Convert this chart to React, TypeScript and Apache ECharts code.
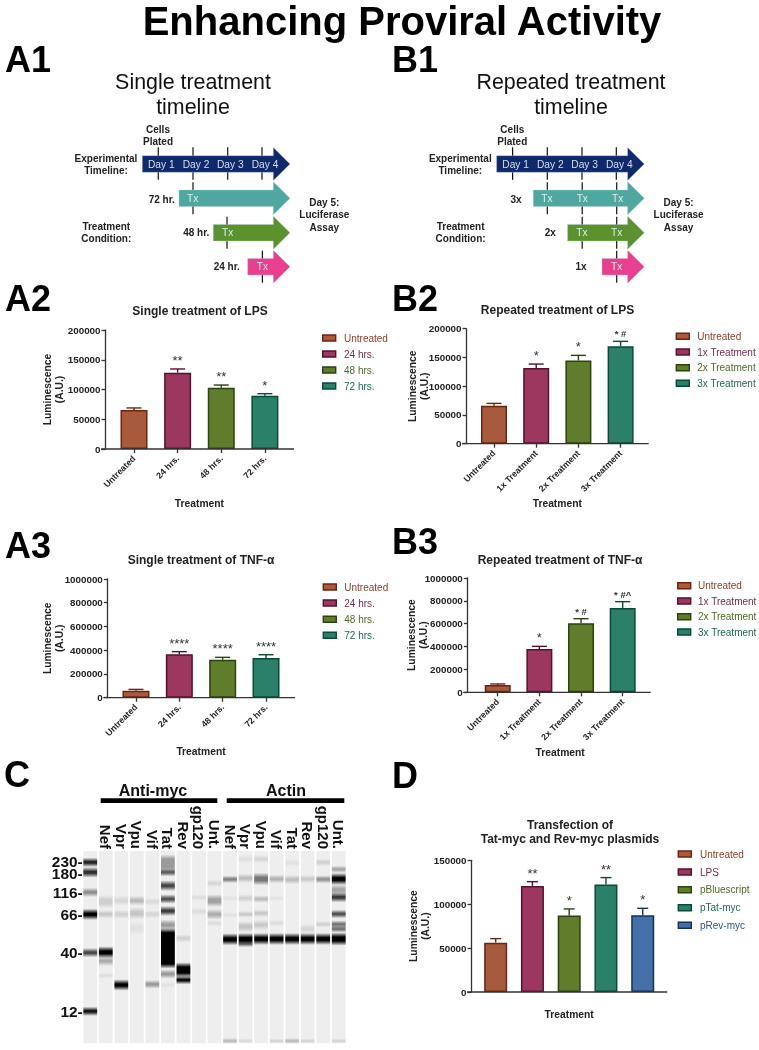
import React, { useEffect, useRef } from "react";
import * as echarts from "echarts";

const a2Labels = ["Untreated", "24 hrs.", "48 hrs.", "72 hrs."];
const a2Means = [65500, 128300, 103000, 89600];
const a2Tops = [69000, 134500, 107500, 93000];
const a2Marks = ["", "**", "**", "*"];

const b2Labels = ["Untreated", "1x Treatment", "2x Treatment", "3x Treatment"];
const b2Means = [66100, 131600, 144900, 169300];
const b2Tops = [70100, 138500, 153600, 178000];
const b2Marks = ["", "*", "*", "* #"];

const a3Labels = a2Labels;
const a3Means = [59000, 365000, 320000, 334000];
const a3Tops = [70000, 388000, 340000, 362000];
const a3Marks = ["", "****", "****", "****"];

const b3Labels = b2Labels;
const b3Means = [64000, 379000, 603500, 737000];
const b3Tops = [73000, 402000, 644000, 793000];
const b3Marks = ["", "*", "* #", "* #^"];

const dLabels = ["Untreated", "LPS", "pBluescript", "pTat-myc", "pRev-myc"];
const dMeans = [56200, 120800, 87000, 122300, 87300];
const dTops = [60800, 125700, 94600, 130300, 95300];
const dMarks = ["", "**", "*", "**", "*"];

const laneNames = ["", "Nef", "Vpr", "Vpu", "Vif", "Tat", "Rev", "gp120", "Unt.", "Nef", "Vpr", "Vpu", "Vif", "Tat", "Rev", "gp120", "Unt."];
const mwLabels: [string, number][] = [["230-", 319], ["180-", 356], ["116-", 412], ["66-", 478], ["40-", 594], ["12-", 769]];

// [gel position, band thickness, darkness] per lane, read from the blot
const markerBands = [[322, 18, .85], [352, 22, .8], [412, 18, .4], [478, 24, 1], [593, 18, .7], [769, 18, .9]];
const nefMyc = [[440, 30, .13], [478, 16, .16], [592, 26, 1], [618, 20, .28], [662, 6, .07]];
const vprMyc = [[437, 20, .1], [478, 16, .12], [690, 24, 1]];
const vpuMyc = [[437, 20, .22], [475, 26, .17], [520, 30, .05]];
const vifMyc = [[440, 14, .08], [478, 14, .1], [688, 16, .35]];
const tatMyc = [[325, 44, .35], [352, 14, .6], [392, 22, .7], [432, 18, .65], [468, 20, .75], [510, 24, .35], [580, 112, 1], [657, 18, .35], [690, 8, .05]];
const revMyc = [[550, 14, .12], [645, 36, 1], [675, 16, .95]];
const gp120Myc = [[428, 10, .07], [470, 14, .07]];
const untMyc = [[385, 14, .1], [437, 28, .32], [478, 22, .27], [505, 10, .07]];
const nefActin = [[373, 12, .45], [430, 8, .05], [480, 8, .05], [553, 26, 1], [858, 8, .2]];
const vprActin = [[312, 16, .06], [370, 18, .2], [430, 14, .12], [478, 10, .15], [515, 24, .18], [553, 28, 1], [568, 8, .4], [858, 6, .08]];
const vpuActin = [[312, 14, .1], [372, 28, .5], [432, 12, .2], [475, 14, .15], [510, 22, .15], [552, 26, 1]];
const vifActin = [[372, 16, .25], [430, 8, .04], [505, 10, .07], [552, 26, 1], [858, 6, .1]];
const tatActin = [[323, 14, .05], [374, 18, .2], [552, 26, 1], [858, 8, .2]];
const revActin = [[372, 14, .15], [522, 20, .1], [552, 26, 1], [858, 6, .1]];
const gp120Actin = [[322, 12, .12], [373, 14, .38], [508, 10, .12], [552, 26, 1]];
const untActin = [[343, 12, .3], [372, 26, 1], [405, 26, .3], [427, 20, .75], [477, 16, .65], [508, 14, .5], [522, 12, .5], [552, 30, 1], [858, 6, .1]];
const laneBands = [markerBands, nefMyc, vprMyc, vpuMyc, vifMyc, tatMyc, revMyc, gp120Myc, untMyc, nefActin, vprActin, vpuActin, vifActin, tatActin, revActin, gp120Actin, untActin];

const FONT = '"Liberation Sans", Arial, sans-serif';
const fills = ["#a85a3c", "#9c3860", "#5f7d2a", "#2a8068", "#4470a8"];
const strokes = ["#6f2412", "#561030", "#2c4210", "#0b4a3a", "#15325e"];
const legendInk = ["#8f3d28", "#7a2a50", "#4e6a26", "#1f6a58", "#2f5486"];
const AXIS = "#333";
const INK = "#222";

const panels = [
  { labels: a2Labels, means: a2Means, tops: a2Tops, marks: a2Marks, max: 200000, interval: 50000, left: 112.2, width: 174.5, top: 330, height: 119, axisX: 105, endX: 294, barW: 27, capW: 15, title: ["Single treatment of LPS"], titleX: 200, titleY: 310.7, legendX: 322.7, legendTextX: 344, legendYs: [338, 354, 370, 386], nameGap: 49, yGap: 40, showLabels: true },
  { labels: b2Labels, means: b2Means, tops: b2Tops, marks: b2Marks, max: 200000, interval: 50000, left: 472.9, width: 168.8, top: 328.7, height: 115, axisX: 466, endX: 648.7, barW: 26, capW: 15, title: ["Repeated treatment of LPS"], titleX: 557.5, titleY: 310, legendX: 676.3, legendTextX: 697.3, legendYs: [336.3, 352, 367.7, 383.3], nameGap: 55, yGap: 36, showLabels: true },
  { labels: a3Labels, means: a3Means, tops: a3Tops, marks: a3Marks, max: 1000000, interval: 200000, left: 114.3, width: 173.4, top: 579, height: 118.7, axisX: 107.3, endX: 295, barW: 27, capW: 15, title: ["Single treatment of TNF-α"], titleX: 201, titleY: 560, legendX: 323.3, legendTextX: 344.3, legendYs: [587, 603, 619.3, 635.3], nameGap: 49, yGap: 42, showLabels: true },
  { labels: b3Labels, means: b3Means, tops: b3Tops, marks: b3Marks, max: 1000000, interval: 200000, left: 476.9, width: 166.6, top: 578, height: 114.3, axisX: 467.3, endX: 650.7, barW: 26, capW: 15, title: ["Repeated treatment of TNF-α"], titleX: 560, titleY: 559.5, legendX: 677.7, legendTextX: 698, legendYs: [585.7, 601, 616.7, 632], nameGap: 55, yGap: 37.6, showLabels: true },
  { labels: dLabels, means: dMeans, tops: dTops, marks: dMarks, max: 150000, interval: 50000, left: 477.3, width: 183.8, top: 860.3, height: 131.7, axisX: 471, endX: 667.3, barW: 23, capW: 11, title: ["Transfection of", "Tat-myc and Rev-myc plasmids"], titleX: 570, titleY: 824.7, legendX: 678.3, legendTextX: 700, legendYs: [854, 872, 889.7, 907.7, 925.3], nameGap: 17, yGap: 39.3, showLabels: false },
];

function txt(x: number, y: number, text: string, size: number, bold = false, fill = "#111", align = "center") {
  return {
    type: "text",
    silent: true,
    z: 20,
    style: {
      text, x, y, fill,
      font: `${bold ? "bold" : "normal"} ${size}px ${FONT}`,
      align, textAlign: align, verticalAlign: "middle", textVerticalAlign: "middle",
    },
  };
}

function vtick(x: number, y1: number, y2: number) {
  return { type: "line", silent: true, z: 2, shape: { x1: x, y1, x2: x, y2 }, style: { stroke: "#111", lineWidth: 1.2 } };
}

function arrow(x0: number, xEnd: number, cy: number, color: string) {
  const neck = xEnd - 16.7;
  return {
    type: "polygon", silent: true, z: 3,
    shape: { points: [[x0, cy - 8.3], [neck, cy - 8.3], [neck, cy - 16.5], [xEnd, cy], [neck, cy + 16.5], [neck, cy + 8.3], [x0, cy + 8.3]] },
    style: { fill: color, stroke: "#b8c4d8", lineWidth: 0.4 },
  };
}

const NAVY = "#10296a", TEAL = "#4fa8a0", GREEN = "#5a922e", PINK = "#ea3e8e", PALE = "#d8dfee";

function timeline(dx: number, repeated: boolean) {
  const out: any[] = [];
  const dayTicks = [158.3, 193, 227.7, 262];
  dayTicks.forEach((x) => out.push(vtick(x + dx, 147.3, 179.8)));
  const rows = [
    { x0: 179, cy: 198.3, color: TEAL, ticks: repeated ? [193, 227.9, 262.4] : [193], tx: repeated ? [192.7, 228, 263.4] : [192.7] },
    { x0: 213.3, cy: 232.7, color: GREEN, ticks: repeated ? [227.9, 262.4] : [227], tx: repeated ? [227.7, 262.4] : [227.7] },
    { x0: 247.7, cy: 266.7, color: PINK, ticks: [262.4], tx: [262.4] },
  ];
  rows.forEach((r) => r.ticks.forEach((x) => out.push(vtick(x + dx, r.cy - 16, r.cy + 16))));
  out.push(arrow(142.3 + dx, 290 + dx, 164, NAVY));
  rows.forEach((r) => out.push(arrow(r.x0 + dx, 290 + dx, r.cy, r.color)));
  ["Day 1", "Day 2", "Day 3", "Day 4"].forEach((d, i) => out.push(txt([161.3, 196, 230.3, 265][i] + dx, 164.3, d, 10.2, false, PALE)));
  rows.forEach((r) => r.tx.forEach((x) => out.push(txt(x + dx, r.cy, "Tx", 10.2, false, "#dcefe8"))));
  const rowLabels = repeated
    ? [["3x", 161.7, 199.3], ["2x", 196, 232.3], ["1x", 226.7, 266.7]]
    : [["72 hr.", 161.7, 199.3], ["48 hr.", 196.3, 232.3], ["24 hr.", 226.7, 266.7]];
  rowLabels.forEach((l) => out.push(txt((l[1] as number) + dx, l[2] as number, l[0] as string, 10, true, "#222")));
  out.push(txt(158 + dx, 129.7, "Cells", 10, true, "#222"), txt(158 + dx, 141.3, "Plated", 10, true, "#222"));
  out.push(txt(106 + dx, 158, "Experimental", 10, true, "#222"), txt(106 + dx, 170, "Timeline:", 10, true, "#222"));
  out.push(txt(106.3 + dx, 226, "Treatment", 10, true, "#222"), txt(106.3 + dx, 238, "Condition:", 10, true, "#222"));
  out.push(txt(324.3 + dx, 202.3, "Day 5:", 10, true, "#222"), txt(324.3 + dx, 214.7, "Luciferase", 10, true, "#222"), txt(324.3 + dx, 227, "Assay", 10, true, "#222"));
  return out;
}

function buildOption() {
  const grids: any[] = [], xAxes: any[] = [], yAxes: any[] = [], series: any[] = [], graphic: any[] = [];

  panels.forEach((p, i) => {
    grids.push({ left: p.left, top: p.top, width: p.width, height: p.height });
    xAxes.push({
      type: "category", gridIndex: i, data: p.labels,
      name: "Treatment", nameLocation: "middle", nameGap: p.nameGap, nameMoveOverlap: false,
      nameTextStyle: { fontFamily: FONT, fontWeight: "bold", fontSize: 10.3, color: INK },
      axisLine: { show: false },
      axisTick: { show: p.showLabels, alignWithLabel: true, length: 4, lineStyle: { color: AXIS, width: 1.3 } },
      axisLabel: { show: p.showLabels, interval: 0, rotate: 45, fontFamily: FONT, fontWeight: "bold", fontSize: 8.8, color: INK, margin: 8 },
      splitLine: { show: false },
    });
    yAxes.push({
      type: "value", gridIndex: i, min: 0, max: p.max, interval: p.interval,
      offset: p.left - p.axisX,
      name: "Luminescence\n(A.U.)", nameLocation: "middle", nameGap: p.yGap, nameMoveOverlap: false,
      nameTextStyle: { fontFamily: FONT, fontWeight: "bold", fontSize: 10.3, color: INK, lineHeight: 12 },
      axisLine: { show: true, lineStyle: { color: AXIS, width: 1.3 } },
      axisTick: { show: true, length: 3.5, lineStyle: { color: AXIS, width: 1.3 } },
      axisLabel: { fontFamily: FONT, fontWeight: "bold", fontSize: 9.8, color: INK, margin: 4.5, formatter: (v: number) => String(v) },
      splitLine: { show: false },
    });
    series.push({
      type: "bar", xAxisIndex: i, yAxisIndex: i, barWidth: p.barW, z: 3,
      data: p.means.map((v, k) => ({ value: v, itemStyle: { color: fills[k], borderColor: strokes[k], borderWidth: 1.5 } })),
    });
    series.push({
      type: "custom", xAxisIndex: i, yAxisIndex: i, z: 4, clip: false,
      encode: { x: 0, y: 1 },
      data: p.tops.map((t, k) => [k, t, p.means[k]]),
      renderItem: (_: any, api: any) => {
        const k = api.value(0);
        const [x, yTop] = api.coord([k, api.value(1)]);
        const [, yMean] = api.coord([k, api.value(2)]);
        const c = strokes[k];
        const children: any[] = [
          { type: "line", shape: { x1: x, y1: yTop, x2: x, y2: yMean }, style: { stroke: c, lineWidth: 1.4 } },
          { type: "line", shape: { x1: x - p.capW / 2, y1: yTop, x2: x + p.capW / 2, y2: yTop }, style: { stroke: c, lineWidth: 1.4 } },
        ];
        const mark = p.marks[k];
        if (mark) {
          const small = mark.includes("#");
          children.push({
            type: "text",
            style: {
              text: mark, x, y: yTop - (small ? 7.5 : 8.5), fill: "#333",
              font: `${small ? "bold 9.5px" : "normal 13px"} ${FONT}`,
              align: "center", textAlign: "center", verticalAlign: "middle", textVerticalAlign: "middle",
            },
          });
        }
        return { type: "group", children };
      },
    });

    graphic.push({
      type: "line", silent: true, z: 10,
      shape: { x1: p.axisX - 4, y1: p.top + p.height, x2: p.endX, y2: p.top + p.height },
      style: { stroke: AXIS, lineWidth: 1.3 },
    });
    p.title.forEach((t, n) => graphic.push(txt(p.titleX, p.titleY + n * 14.3, t, 12, true, INK)));
    p.labels.forEach((l, k) => {
      graphic.push({
        type: "rect", silent: true, z: 20,
        shape: { x: p.legendX, y: p.legendYs[k] - 3, width: 13, height: 6 },
        style: { fill: fills[k], stroke: strokes[k], lineWidth: 1.4 },
      });
      graphic.push(txt(p.legendTextX, p.legendYs[k], l, 10, false, legendInk[k], "left"));
    });
  });

  // Western blot
  const g = panels.length;
  grids.push({ left: 82.5, top: 851, width: 264, height: 192.3 });
  xAxes.push({
    type: "category", gridIndex: g, position: "top", data: laneNames,
    axisLine: { show: false }, axisTick: { show: false }, splitLine: { show: false },
    axisLabel: { interval: 0, rotate: 90, margin: 2, fontFamily: FONT, fontWeight: "bold", fontSize: 15, color: "#111" },
  });
  yAxes.push({
    type: "value", gridIndex: g, inverse: true, min: 288, max: 865,
    axisLine: { show: false }, axisTick: { show: false }, splitLine: { show: false }, axisLabel: { show: false },
  });
  series.push({
    type: "custom", xAxisIndex: g, yAxisIndex: g, z: 2, silent: true,
    encode: { x: 0, y: 1 },
    data: laneNames.map((_, k) => [k, 288]),
    renderItem: (_: any, api: any) => {
      const [x, y0] = api.coord([api.value(0), 288]);
      const [, y1] = api.coord([api.value(0), 865]);
      return { type: "rect", shape: { x: x - 6.9, y: y0, width: 13.8, height: y1 - y0 }, style: { fill: "#eeeeee" } };
    },
  });
  const bandData: number[][] = [];
  laneBands.forEach((bands, k) => bands.forEach((b) => bandData.push([k, b[0], b[1], b[2]])));
  series.push({
    type: "custom", xAxisIndex: g, yAxisIndex: g, z: 3, silent: true,
    encode: { x: 0, y: 1 },
    data: bandData,
    renderItem: (_: any, api: any) => {
      const pos = api.value(1), th = api.value(2) + 10, d = api.value(3);
      const [x, y0] = api.coord([api.value(0), pos - th / 2]);
      const [, y1] = api.coord([api.value(0), pos + th / 2]);
      const ink = (a: number) => `rgba(0,0,0,${a})`;
      const f = Math.min(0.42, 14 / th);
      return {
        type: "rect",
        shape: { x: x - 6.9, y: y0, width: 13.8, height: y1 - y0 },
        style: {
          fill: new echarts.graphic.LinearGradient(0, 0, 0, 1, [
            { offset: 0, color: ink(0) },
            { offset: f / 2, color: ink(d * 0.5) },
            { offset: f, color: ink(d) },
            { offset: 1 - f, color: ink(d) },
            { offset: 1 - f / 2, color: ink(d * 0.5) },
            { offset: 1, color: ink(0) },
          ]),
        },
      };
    },
  });
  series.push({
    type: "custom", xAxisIndex: g, yAxisIndex: g, z: 5, silent: true, clip: false,
    encode: { x: 0, y: 1 },
    data: mwLabels.map((m) => [0, m[1]]),
    renderItem: (params: any, api: any) => {
      const [x, y] = api.coord([0, api.value(1)]);
      return {
        type: "text",
        style: {
          text: mwLabels[params.dataIndex][0], x: x - 7.6, y, fill: "#111",
          font: `bold 15.4px ${FONT}`,
          align: "right", textAlign: "right", verticalAlign: "middle", textVerticalAlign: "middle",
        },
      };
    },
  });

  // main heading and panel letters
  graphic.push(txt(402, 20.6, "Enhancing Proviral Activity", 40, true, "#000"));
  ([["A1", 5, 59.7], ["B1", 392, 59.7], ["A2", 5, 298], ["B2", 392, 298], ["A3", 5, 545.7], ["B3", 392, 541.7], ["C", 4, 774], ["D", 392, 775.7]] as [string, number, number][])
    .forEach(([t, x, y]) => graphic.push(txt(x, y, t, 36, true, "#000", "left")));
  graphic.push(txt(193, 82, "Single treatment", 21.4), txt(193, 107, "timeline", 21.4));
  graphic.push(txt(571, 82.3, "Repeated treatment", 21.4), txt(571, 107.3, "timeline", 21.4));
  graphic.push(...timeline(0, false), ...timeline(354.3, true));

  // blot group headings
  graphic.push(txt(153, 790.7, "Anti-myc", 16, true, "#111"), txt(286, 790.7, "Actin", 16, true, "#111"));
  graphic.push({ type: "rect", silent: true, shape: { x: 100.7, y: 798.3, width: 116.6, height: 4.7 }, style: { fill: "#000" } });
  graphic.push({ type: "rect", silent: true, shape: { x: 226.7, y: 798.3, width: 117.6, height: 4.7 }, style: { fill: "#000" } });

  return { animation: false, backgroundColor: "#fff", grid: grids, xAxis: xAxes, yAxis: yAxes, series, graphic };
}

export default function App() {
  const ref = useRef<HTMLDivElement>(null);
  useEffect(() => {
    const chart = echarts.init(ref.current!, undefined, { renderer: "svg" });
    chart.setOption(buildOption() as any);
    return () => chart.dispose();
  }, []);
  return <div ref={ref} style={{ position: "absolute", left: 0, top: 0, width: 759, height: 1050, filter: "blur(0.3px)" }} />;
}
